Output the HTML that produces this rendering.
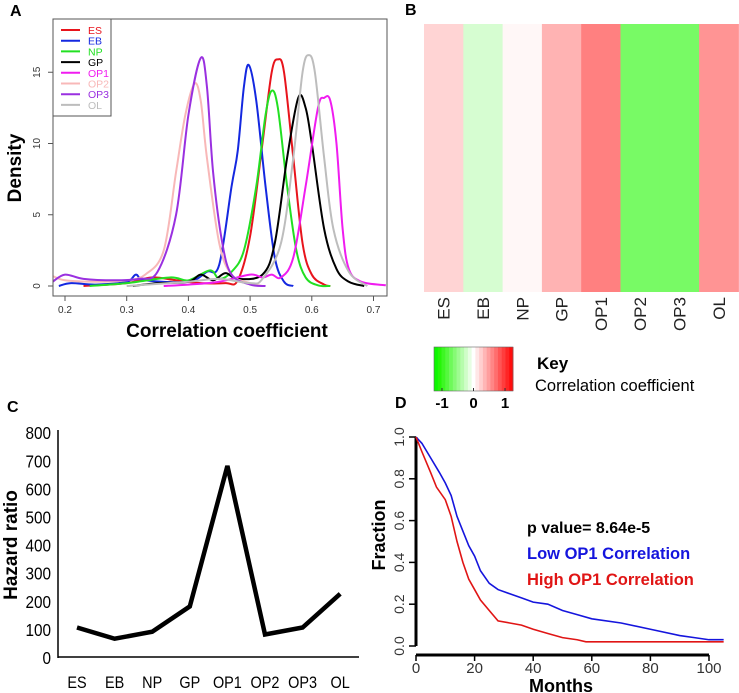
<!DOCTYPE html>
<html><head><meta charset="utf-8"><style>
html,body{margin:0;padding:0;background:#fff;}
svg{display:block;font-family:"Liberation Sans",Arial,sans-serif;}
</style></head><body>
<svg id="fig" width="739" height="693" viewBox="0 0 739 693">
<g id="pA"></g>
<g id="pB"></g>
<g id="pC"></g>
<g id="pD"></g>
</svg>
<script>
// ---------- Panel A data ----------
const densNames = ["ES","EB","NP","GP","OP1","OP2","OP3","OL"];
const densColors = ["#e8141c","#1428e0","#22e022","#000000","#f01cf0","#f8b8b8","#9a30e0","#bdbdbd"];
const esX=[0.23,0.3,0.34,0.38,0.42,0.46,0.48,0.5,0.52,0.535,0.545,0.555,0.57,0.585,0.6,0.62,0.63];
const esY=[0,0.2,0.6,0.4,0.2,0.2,0.4,3.5,10,15,15.9,15,9,3,0.8,0.1,0];
const ebX=[0.19,0.21,0.25,0.3,0.315,0.33,0.4,0.43,0.45,0.47,0.48,0.49,0.498,0.51,0.525,0.54,0.555,0.57];
const ebY=[0,0.2,0.1,0.3,0.8,0.4,0.3,1,1.5,7,9.5,14,15.5,13,7,2,0.3,0];
const npX=[0.24,0.3,0.37,0.4,0.435,0.45,0.47,0.49,0.51,0.525,0.535,0.545,0.56,0.575,0.59,0.61,0.63];
const npY=[0,0.2,0.6,0.4,1.1,0.5,1,2.5,7,12,13.7,12.5,7,2.5,0.6,0.05,0];
const gpX=[0.31,0.35,0.4,0.42,0.44,0.46,0.48,0.52,0.54,0.56,0.578,0.59,0.6,0.62,0.64,0.66,0.685];
const gpY=[0,0.2,0.3,0.8,0.4,0.9,0.5,0.8,3,9,13.2,12.5,10,4,1.2,0.3,0];
const op1X=[0.36,0.4,0.45,0.5,0.52,0.535,0.55,0.57,0.59,0.61,0.62,0.63,0.64,0.65,0.66,0.68,0.72];
const op1Y=[0,0.1,0.3,0.8,0.6,0.8,0.6,2,7,12.5,13.2,13,10,4,1.2,0.3,0.05];
const op2X=[0.18,0.2,0.25,0.3,0.33,0.36,0.38,0.395,0.41,0.42,0.43,0.45,0.47,0.5,0.52];
const op2Y=[0.7,0.4,0.3,0.4,0.8,2.5,8,12,14.2,13,9,3,0.8,0.2,0];
const op3X=[0.18,0.2,0.23,0.28,0.32,0.35,0.38,0.4,0.42,0.43,0.44,0.455,0.47,0.5,0.525];
const op3Y=[0.3,0.8,0.5,0.4,0.5,1,5,12,16,14,8,3,0.8,0.1,0];
const olX=[0.3,0.4,0.45,0.5,0.52,0.55,0.57,0.585,0.595,0.605,0.62,0.635,0.66,0.69];
const olY=[0,0.3,0.5,0.2,0.5,3,9,15,16.2,15,9,4,1,0];
const densXs=[esX,ebX,npX,gpX,op1X,op2X,op3X,olX];
const densYs=[esY,ebY,npY,gpY,op1Y,op2Y,op3Y,olY];
const aXTicks=[0.2,0.3,0.4,0.5,0.6,0.7];
const aYTicks=[0,5,10,15];
// ---------- Panel B data ----------
const hmCols=["ES","EB","NP","GP","OP1","OP2","OP3","OL"];
const hmVals=[0.17,-0.16,0.03,0.3,0.5,-0.53,-0.53,0.42];
const keyVals=[-1,-0.9,-0.8,-0.7,-0.6,-0.5,-0.4,-0.3,-0.2,-0.1,0,0.1,0.2,0.3,0.4,0.5,0.6,0.7,0.8,0.9,1];
// ---------- Panel C data ----------
const hrCats=["ES","EB","NP","GP","OP1","OP2","OP3","OL"];
const hrVals=[105,65,90,180,680,80,105,225];
const hrTicks=[0,100,200,300,400,500,600,700,800];
// ---------- Panel D data ----------
const lowT=[0,2,5,8,10,12,14,16,18,20,22,25,28,32,36,40,45,50,55,60,70,80,90,95,100,105];
const lowS=[1,0.97,0.9,0.83,0.78,0.72,0.62,0.55,0.48,0.43,0.36,0.3,0.27,0.25,0.23,0.21,0.2,0.17,0.15,0.13,0.11,0.08,0.05,0.04,0.03,0.03];
const highT=[0,2,5,7,10,12,14,16,18,20,22,25,28,32,36,40,45,50,55,58,105];
const highS=[1,0.93,0.83,0.76,0.7,0.62,0.5,0.4,0.32,0.27,0.22,0.17,0.12,0.11,0.1,0.08,0.06,0.04,0.03,0.02,0.02];
const kmXTicks=[0,20,40,60,80,100];
const kmYTicks=[0,0.2,0.4,0.6,0.8,1.0];

const NS="http://www.w3.org/2000/svg";
function mk(parent,tag,attrs,text){const e=document.createElementNS(NS,tag);for(const k in attrs)e.setAttribute(k,attrs[k]);if(text!==undefined)e.textContent=text;parent.appendChild(e);return e;}
function smooth(pts){let d="M"+pts[0][0]+","+pts[0][1];for(let i=0;i<pts.length-1;i++){const p0=pts[Math.max(0,i-1)],p1=pts[i],p2=pts[i+1],p3=pts[Math.min(pts.length-1,i+2)];const c1x=p1[0]+(p2[0]-p0[0])/6,c1y=p1[1]+(p2[1]-p0[1])/6,c2x=p2[0]-(p3[0]-p1[0])/6,c2y=p2[1]-(p3[1]-p1[1])/6;d+=" C"+c1x+","+c1y+" "+c2x+","+c2y+" "+p2[0]+","+p2[1];}return d;}

// ---------- Panel A ----------
(function(){
const g=document.getElementById('pA');
const ax=v=>65+(v-0.2)*617, ay=v=>286-v*14.25;
let t=mk(g,'text',{x:10,y:16,'font-size':16,'font-weight':'bold'},'A');

const clip=mk(g,'clipPath',{id:'clipA'});mk(clip,'rect',{x:53,y:19,width:334,height:277});
for(let s=0;s<densNames.length;s++){
 const pts=densXs[s].map((x,i)=>[ax(x),ay(densYs[s][i])]);
 const p=mk(g,'path',{d:smooth(pts),fill:'none',stroke:densColors[s],'stroke-width':2,'clip-path':'url(#clipA)'});
 
 
}
const box=mk(g,'rect',{x:53,y:19,width:334,height:277,fill:'none',stroke:'#555','stroke-width':1});

aXTicks.forEach(v=>{mk(g,'line',{x1:ax(v),x2:ax(v),y1:296,y2:301,stroke:'#555'});
 const l=mk(g,'text',{x:ax(v),y:313,'font-size':10,'text-anchor':'middle',fill:'#333'},v.toFixed(1));
 });
aYTicks.forEach(v=>{mk(g,'line',{x1:48,x2:53,y1:ay(v),y2:ay(v),stroke:'#555'});
 const l=mk(g,'text',{x:40,y:ay(v),'font-size':10,'text-anchor':'middle',fill:'#333',transform:'rotate(-90 40 '+ay(v)+')'},String(v));
 });
t=mk(g,'text',{x:227,y:337,'font-size':19,'font-weight':'bold','text-anchor':'middle'},'Correlation coefficient');

t=mk(g,'text',{x:21,y:168,'font-size':19,'font-weight':'bold','text-anchor':'middle',transform:'rotate(-90 21 168)'},'Density');

const lg=mk(g,'g',{});
mk(lg,'rect',{x:53,y:19,width:58,height:97,fill:'#fff',stroke:'#555','stroke-width':1});
densNames.forEach((n,i)=>{const y=30+i*10.7;
 const e=mk(lg,'g',{});
 mk(e,'line',{x1:61,x2:80,y1:y,y2:y,stroke:densColors[i],'stroke-width':2});
 mk(e,'text',{x:88,y:y+4,'font-size':10.5,fill:densColors[i]},n);});
})();

// ---------- Panel B ----------
function corrColor(v){if(v>=0){const c=Math.round(255-255*v);return 'rgb(255,'+c+','+c+')';}const a=-v;return 'rgb('+Math.round(255-255*a)+','+Math.round(255-10*a)+','+Math.round(255-290*a<0?0:255-290*a)+')';}
(function(){
const g=document.getElementById('pB');
let t=mk(g,'text',{x:405,y:15,'font-size':16,'font-weight':'bold'},'B');

const x0=424,w=39.3,y0=24,h=268;
hmCols.forEach((c,i)=>{
 const r=mk(g,'rect',{x:x0+i*w,y:y0,width:w+0.5,height:h,fill:corrColor(hmVals[i])});
 
 const cx=x0+i*w+w/2+6;
 const l=mk(g,'text',{x:cx,y:297,'font-size':17,'text-anchor':'end',fill:'#222',transform:'rotate(-90 '+cx+' 297)'},c);
 
});
const kg=mk(g,'g',{});
const kx=434,kw=79,ky=347,kh=44,sw=kw/keyVals.length;
keyVals.forEach((v,i)=>{mk(kg,'rect',{x:kx+i*sw,y:ky,width:sw+0.4,height:kh,fill:corrColor(v*0.95)});});
mk(kg,'rect',{x:kx,y:ky,width:kw,height:kh,fill:'none',stroke:'#666','stroke-width':0.6});
[-1,0,1].forEach(v=>{const x=kx+8+(v+1)/2*(kw-16);
 mk(kg,'line',{x1:x,x2:x,y1:ky+kh-3,y2:ky+kh,stroke:'#333'});
 mk(kg,'text',{x:x,y:408,'font-size':15,'font-weight':'bold','text-anchor':'middle'},String(v));});
t=mk(g,'text',{x:537,y:369,'font-size':17,'font-weight':'bold'},'Key');

t=mk(g,'text',{x:535,y:391,'font-size':16.5},'Correlation coefficient');

})();

// ---------- Panel C ----------
(function(){
const g=document.getElementById('pC');
let t=mk(g,'text',{x:7,y:412,'font-size':16,'font-weight':'bold'},'C');

const cx=i=>77+i*37.6, cy=v=>657-v*0.281;
mk(g,'line',{x1:58,x2:58,y1:430,y2:658,stroke:'#000','stroke-width':1.5});
mk(g,'line',{x1:58,x2:359,y1:657,y2:657,stroke:'#000','stroke-width':1.5});
hrTicks.forEach(v=>{const l=mk(g,'text',{x:51,y:cy(v)+7,'font-size':18,'text-anchor':'end',transform:'scale(0.85 1)','transform-origin':'51 0'},String(v));
 });
hrCats.forEach((c,i)=>{const l=mk(g,'text',{x:cx(i),y:688,'font-size':17,'text-anchor':'middle',transform:'scale(0.85 1)','transform-origin':cx(i)+' 0'},c);
 });
const p=mk(g,'polyline',{points:hrVals.map((v,i)=>cx(i)+','+cy(v)).join(' '),fill:'none',stroke:'#000','stroke-width':4.5,'stroke-linejoin':'miter'});

t=mk(g,'text',{x:17,y:545,'font-size':19,'font-weight':'bold','text-anchor':'middle',transform:'rotate(-90 17 545)'},'Hazard ratio');

})();

// ---------- Panel D ----------
(function(){
const g=document.getElementById('pD');
let t=mk(g,'text',{x:395,y:408,'font-size':16,'font-weight':'bold'},'D');

const kx=v=>416+v*2.93, ky=v=>646-v*209;
mk(g,'line',{x1:416,x2:416,y1:ky(1),y2:ky(0),stroke:'#000','stroke-width':3});
mk(g,'line',{x1:kx(0),x2:kx(100),y1:655,y2:655,stroke:'#000','stroke-width':3});
kmYTicks.forEach(v=>{mk(g,'line',{x1:409,x2:416,y1:ky(v),y2:ky(v),stroke:'#000','stroke-width':1.5});
 const l=mk(g,'text',{x:404,y:ky(v),'font-size':14,'text-anchor':'middle',fill:'#333',transform:'rotate(-90 404 '+ky(v)+')'},v.toFixed(1));
 });
kmXTicks.forEach(v=>{mk(g,'line',{x1:kx(v),x2:kx(v),y1:655,y2:661,stroke:'#000','stroke-width':1.5});
 const l=mk(g,'text',{x:kx(v),y:673,'font-size':15,'text-anchor':'middle',fill:'#333'},String(v));
 });
function line(T,S){return T.map((x,i)=>(i?'L':'M')+kx(x)+','+ky(S[i])).join(' ');}
let p=mk(g,'path',{d:line(lowT,lowS),fill:'none',stroke:'#1515dd','stroke-width':1.6});

p=mk(g,'path',{d:line(highT,highS),fill:'none',stroke:'#e01515','stroke-width':1.6});

t=mk(g,'text',{x:527,y:533,'font-size':16,'font-weight':'bold'},'p value= 8.64e-5');

t=mk(g,'text',{x:527,y:559,'font-size':16.5,'font-weight':'bold',fill:'#1515dd'},'Low OP1 Correlation');

t=mk(g,'text',{x:527,y:585,'font-size':16.5,'font-weight':'bold',fill:'#e01515'},'High OP1 Correlation');

t=mk(g,'text',{x:561,y:692,'font-size':18,'font-weight':'bold','text-anchor':'middle'},'Months');

t=mk(g,'text',{x:385,y:535,'font-size':18,'font-weight':'bold','text-anchor':'middle',transform:'rotate(-90 385 535)'},'Fraction');

})();
</script>
</body></html>
